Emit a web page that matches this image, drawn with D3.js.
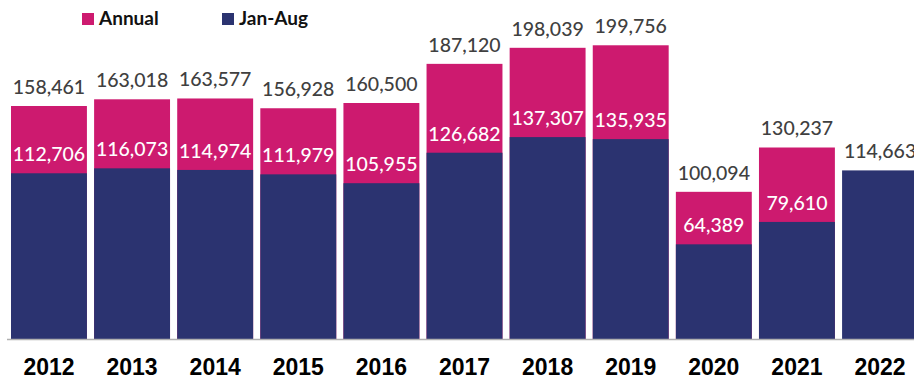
<!doctype html>
<html>
  <head>
    <script src="https://cdnjs.cloudflare.com/ajax/libs/d3/7.8.5/d3.min.js"></script>
    <style>
      body { margin: 0; background: #fff; }
    </style>
  </head>
<body>
  <svg id="chart" width="914" height="380"></svg>
  <script>
    var years = ["2012","2013","2014","2015","2016","2017","2018","2019","2020","2021","2022"];
    var annual = [158461,163018,163577,156928,160500,187120,198039,199756,100094,130237,null];
    var janAug = [112706,116073,114974,111979,105955,126682,137307,135935,64389,79610,114663];
    var seriesNames = ["Annual","Jan-Aug"];
    var colors = ["#cd1a6f","#2b3370"];

    var svg = d3.select("#chart");
    var baseY = 339;

    var x = d3.scaleBand().domain(years).range([11, 918]).paddingInner(0.0865).paddingOuter(0);
    var y = d3.scaleLinear().domain([0, 230550]).range([baseY, 0]);
    var fmt = d3.format(",");

    var data = years.map((yr, i) => ({year: yr, annual: annual[i], janAug: janAug[i]}));

    // annual bars behind
    svg.selectAll("rect.annual")
       .data(data.filter(d => d.annual != null))
       .enter()
       .append("rect")
       .attr("class", "annual")
       .attr("x", d => x(d.year))
       .attr("width", x.bandwidth())
       .attr("y", d => y(d.annual))
       .attr("height", d => baseY - y(d.annual))
       .style("fill", colors[0]);

    svg.selectAll("rect.janaug")
       .data(data)
       .enter()
       .append("rect")
       .attr("class", "janaug")
       .attr("x", d => x(d.year))
       .attr("width", x.bandwidth())
       .attr("y", d => y(d.janAug))
       .attr("height", d => baseY - y(d.janAug))
       .style("fill", colors[1]);

    // axis line
    svg.append("line")
       .attr("x1", 7).attr("x2", 914)
       .attr("y1", baseY + 0.5).attr("y2", baseY + 0.5)
       .style("stroke", "#b0b0b0")
       .style("stroke-width", "1.5px");

    var xAxis = d3.axisBottom(x).tickSize(0).tickPadding(0);
    var gx = svg.append("g").attr("transform", "translate(0," + (baseY + 19) + ")").call(xAxis);
    gx.select(".domain").remove();
    gx.selectAll("text")
      .attr("dy", "0.72em")
      .style("font-family", "'Liberation Sans', Arial, sans-serif")
      .style("font-weight", "bold")
      .style("font-size", "23px")
      .style("fill", "#000");

    var labelFont = "Lato, 'Noto Sans', sans-serif";

    // top labels (annual, or Jan-Aug where there is no annual)
    svg.selectAll("text.top")
       .data(data)
       .enter()
       .append("text")
       .attr("class", "top")
       .attr("x", d => x(d.year) + x.bandwidth() / 2)
       .attr("y", d => y(d.annual != null ? d.annual : d.janAug) - 12)
       .attr("text-anchor", "middle")
       .style("font-family", labelFont)
       .style("font-size", "19.5px")
       .style("font-weight", "500")
       .style("fill", "#404040")
       .text(d => fmt(d.annual != null ? d.annual : d.janAug));

    // inner Jan-Aug labels
    svg.selectAll("text.inner")
       .data(data.filter(d => d.annual != null))
       .enter()
       .append("text")
       .attr("class", "inner")
       .attr("x", d => x(d.year) + x.bandwidth() / 2)
       .attr("y", d => y(d.janAug) - 12)
       .attr("text-anchor", "middle")
       .style("font-family", labelFont)
       .style("font-size", "19.5px")
       .style("font-weight", "500")
       .style("fill", "#fff")
       .text(d => fmt(d.janAug));

    // legend
    var legX = [82, 222];
    var leg = svg.selectAll("g.leg")
       .data(seriesNames)
       .enter()
       .append("g")
       .attr("class", "leg")
       .attr("transform", (d, i) => "translate(" + legX[i] + ",13)");
    leg.append("rect")
       .attr("width", 12).attr("height", 12)
       .style("fill", (d, i) => colors[i]);
    leg.append("text")
       .attr("x", 17).attr("y", 11.5)
       .style("font-family", labelFont)
       .style("font-weight", "bold")
       .style("font-size", "19px")
       .style("fill", "#111")
       .text(d => d);
  </script>
</body>
</html>
